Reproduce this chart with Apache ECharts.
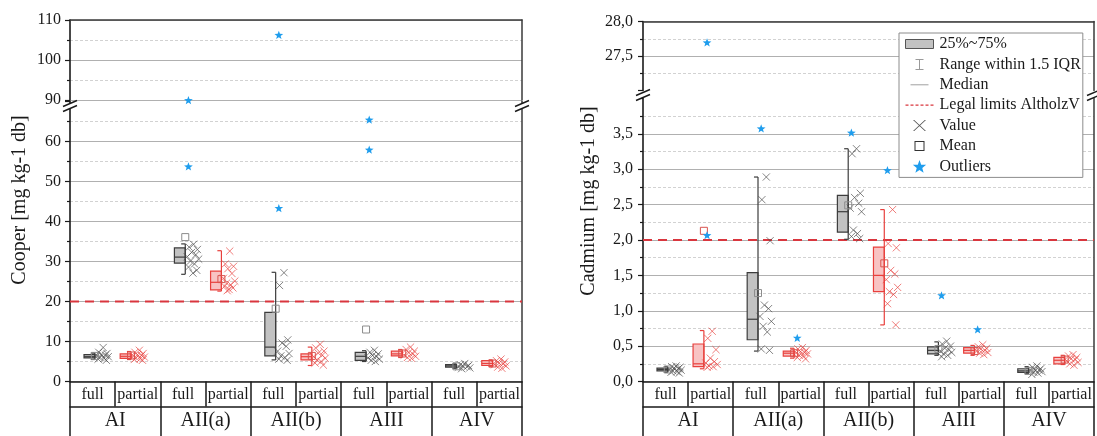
<!DOCTYPE html>
<html>
<head>
<meta charset="utf-8">
<script src="https://cdn.jsdelivr.net/npm/echarts@6.0.0/dist/echarts.min.js"></script>
<style>html,body{margin:0;padding:0;background:#fff}#chart{width:1097px;height:436px}</style>
</head>
<body>
<div id="chart"></div>
<script>
// ---------------- data ----------------
const groups = ['AI', 'AII(a)', 'AII(b)', 'AIII', 'AIV'];
const subCats = ['full', 'partial'];
const cuTitle = 'Cooper [mg kg-1 db]';
const cdTitle = 'Cadmium [mg kg-1 db]';
const cuLimit = 20;
const cdLimit = 2.0;

// [lower whisker, Q1, median, Q3, upper whisker] per group
const cuFullStats = [[5.5, 5.9, 6.2, 6.7, 7.1], [26.8, 29.6, 31.1, 33.4, 34.4], [5.4, 6.4, 8.6, 17.3, 27.3], [5.0, 5.3, 6.3, 7.3, 7.7], [3.3, 3.6, 3.9, 4.2, 4.4]];
const cuPartialStats = [[5.5, 5.8, 6.3, 6.9, 7.5], [22.6, 22.9, 24.8, 27.6, 32.7], [4.0, 5.4, 6.2, 6.9, 8.6], [6.0, 6.4, 6.9, 7.6, 8.0], [3.7, 4.0, 4.5, 5.2, 5.4]];
const cuFullMean = [6.4, 36.1, 18.2, 13.0, 3.8];
const cuPartialMean = [6.5, 25.6, 6.4, 7.0, 4.5];
const cuFullValues = [
  [8.5, 7.3, 7.0, 6.8, 6.6, 6.4, 6.2, 6.0, 5.8, 5.6, 5.3],
  [34.3, 33.6, 33.0, 32.3, 31.7, 31.2, 30.6, 30.1, 29.4, 28.6, 27.8, 27.1],
  [27.2, 24.0, 10.4, 9.6, 8.8, 7.6, 7.0, 6.4, 6.0, 5.6, 5.3],
  [7.8, 7.3, 6.9, 6.5, 6.2, 5.9, 5.6, 5.3, 5.0],
  [4.5, 4.2, 4.0, 3.9, 3.7, 3.6, 3.4, 3.2]
];
const cuPartialValues = [
  [7.8, 7.3, 7.0, 6.7, 6.5, 6.3, 6.1, 5.9, 5.7, 5.5, 5.3],
  [32.6, 29.4, 28.8, 28.2, 27.0, 25.8, 25.1, 24.6, 24.2, 23.8, 23.4, 23.0, 22.7],
  [9.3, 8.4, 7.6, 7.1, 6.6, 6.2, 5.8, 5.4, 5.0, 4.6, 4.1],
  [8.6, 8.0, 7.6, 7.2, 6.9, 6.6, 6.3, 6.0, 5.8],
  [5.6, 5.2, 4.9, 4.6, 4.4, 4.2, 3.9, 3.6, 3.3]
];
const cuFullOutliers = [[], [53.8, 90.0], [43.4, 106.3], [58.0, 65.5], []];
const cuPartialOutliers = [[], [], [], [], []];

const cdFullStats = [[0.13, 0.15, 0.17, 0.19, 0.21], [0.43, 0.59, 0.88, 1.54, 2.89], [2.01, 2.11, 2.40, 2.63, 3.29], [0.37, 0.39, 0.44, 0.49, 0.56], [0.11, 0.13, 0.15, 0.18, 0.21]];
const cdPartialStats = [[0.18, 0.21, 0.25, 0.53, 0.72], [0.33, 0.36, 0.40, 0.43, 0.47], [0.80, 1.27, 1.50, 1.90, 2.43], [0.37, 0.40, 0.44, 0.48, 0.51], [0.24, 0.25, 0.30, 0.34, 0.37]];
const cdFullMean = [0.17, 1.25, 2.49, 0.46, 0.15];
const cdPartialMean = [2.13, 0.40, 1.67, 0.43, 0.31];
const cdFullValues = [
  [0.22, 0.21, 0.20, 0.19, 0.18, 0.17, 0.16, 0.15, 0.14, 0.13, 0.12],
  [2.89, 2.57, 1.99, 1.08, 1.03, 0.92, 0.85, 0.78, 0.70, 0.46, 0.44],
  [3.29, 3.22, 2.66, 2.60, 2.52, 2.45, 2.40, 2.14, 2.09, 2.05, 2.02],
  [0.57, 0.53, 0.50, 0.47, 0.45, 0.43, 0.41, 0.39, 0.37, 0.35],
  [0.22, 0.20, 0.18, 0.17, 0.16, 0.15, 0.14, 0.13, 0.12, 0.10]
];
const cdPartialValues = [
  [0.71, 0.61, 0.45, 0.33, 0.28, 0.26, 0.24, 0.22, 0.21, 0.20],
  [0.48, 0.46, 0.44, 0.42, 0.41, 0.40, 0.39, 0.37, 0.36, 0.34, 0.32],
  [2.43, 1.95, 1.89, 1.57, 1.52, 1.44, 1.33, 1.27, 1.23, 1.10, 0.80],
  [0.52, 0.49, 0.47, 0.46, 0.44, 0.43, 0.41, 0.40, 0.38],
  [0.38, 0.36, 0.34, 0.32, 0.31, 0.29, 0.27, 0.25, 0.23]
];
const cdFullOutliers = [[], [3.58], [3.52], [1.22], []];
const cdPartialOutliers = [[2.07, 27.7], [0.62], [2.99], [0.74], []];

// axis ranges (lower segment / upper segment of the broken axes)
const cuLowerRange = [0, 70], cuUpperRange = [90, 110], cuInterval = 10;
const cdLowerRange = [0, 4], cdUpperRange = [27, 28], cdInterval = 0.5;

// ---------------- layout / style ----------------
const FONT = '"Liberation Serif", "Times New Roman", serif';
const TXT = '#1a1a1a';
const LAYOUT = [
  { box: [0.31, 0.55], value: [0.72, 0.14], outlier: 0.62 },
  { box: [0.11, 0.35], value: [0.52, 0.14], outlier: 0.42 }
];
const STYLE = [
  { fill: '#c2c2c2', stroke: '#3c3c3c', cross: '#4a4a4a', mean: '#8c8c8c' },
  { fill: '#f8c3c3', stroke: '#e8403d', cross: '#e8403d', mean: '#d9534f' }
];
const JITTER = [0.1, -0.6, 0.7, -0.2, 0.45, -0.9, 0.9, -0.4, 0.25, -0.7, 0.6, 0, -0.3];
const STAR_COLOR = '#1f9ded';
const PANELS = [
  { upper: { left: 70, top: 20, width: 452, height: 80 }, lower: { left: 70, top: 101.5, width: 452, height: 280 }, brk: 106 },
  { upper: { left: 643, top: 21.5, width: 451, height: 69 }, lower: { left: 643, top: 98.5, width: 451, height: 283 }, brk: 95 }
];

const catKeys = groups.flatMap(g => subCats.map(s => g + '|' + s));

function xAt(api, cat, frac) {
  const c = api.coord([cat, 0])[0];
  const bw = api.size([1, 0])[0];
  return c + (frac - 0.5) * bw;
}
function renderLimit(params, api) {
  const cs = params.coordSys;
  const y = api.coord([0, api.value(1)])[1];
  return { type: 'line', shape: { x1: cs.x, y1: y, x2: cs.x + cs.width, y2: y },
    style: { stroke: '#d9363e', lineWidth: 2, lineDash: [9, 6] } };
}
function renderBox(params, api) {
  const cat = api.value(0), t = api.value(6);
  const x0 = xAt(api, cat, LAYOUT[t].box[0]), x1 = xAt(api, cat, LAYOUT[t].box[1]);
  const y1 = api.coord([cat, api.value(2)])[1], y3 = api.coord([cat, api.value(4)])[1];
  return { type: 'rect', shape: { x: x0, y: y3, width: x1 - x0, height: Math.max(y1 - y3, 1) },
    style: { fill: STYLE[t].fill, stroke: STYLE[t].stroke, lineWidth: 1.2 } };
}
function renderWhisker(params, api) {
  const cat = api.value(0), t = api.value(6);
  const x1 = xAt(api, cat, LAYOUT[t].box[1]);
  const cap = api.size([1, 0])[0] * 0.09;
  const yl = api.coord([cat, api.value(1)])[1], yh = api.coord([cat, api.value(5)])[1];
  const st = () => ({ stroke: STYLE[t].stroke, lineWidth: 1.2 });
  return { type: 'group', children: [
    { type: 'line', shape: { x1: x1, y1: yl, x2: x1, y2: yh }, style: st() },
    { type: 'line', shape: { x1: x1 - cap, y1: yl, x2: x1, y2: yl }, style: st() },
    { type: 'line', shape: { x1: x1 - cap, y1: yh, x2: x1, y2: yh }, style: st() }
  ] };
}
function renderMedian(params, api) {
  const cat = api.value(0), t = api.value(6);
  const x0 = xAt(api, cat, LAYOUT[t].box[0]), x1 = xAt(api, cat, LAYOUT[t].box[1]);
  const y = api.coord([cat, api.value(3)])[1];
  return { type: 'line', shape: { x1: x0, y1: y, x2: x1, y2: y }, style: { stroke: STYLE[t].stroke, lineWidth: 1.2 } };
}
function renderValue(params, api) {
  const cat = api.value(0), v = api.value(1), t = api.value(2), k = api.value(3);
  const x = xAt(api, cat, LAYOUT[t].value[0] + JITTER[k % JITTER.length] * LAYOUT[t].value[1]);
  const y = api.coord([cat, v])[1];
  const h = 3.6;
  const st = () => ({ stroke: STYLE[t].cross, lineWidth: 0.8, opacity: 0.85 });
  return { type: 'group', children: [
    { type: 'line', shape: { x1: x - h, y1: y - h, x2: x + h, y2: y + h }, style: st() },
    { type: 'line', shape: { x1: x - h, y1: y + h, x2: x + h, y2: y - h }, style: st() }
  ] };
}
function renderMean(params, api) {
  const cat = api.value(0), t = api.value(2);
  const x = xAt(api, cat, LAYOUT[t].box[1]);
  const y = api.coord([cat, api.value(1)])[1];
  return { type: 'rect', shape: { x: x - 3.5, y: y - 3.5, width: 7, height: 7 },
    style: { fill: 'none', stroke: STYLE[t].mean, lineWidth: 1 } };
}
function starPts(cx, cy, R, r) {
  const pts = [];
  for (let k = 0; k < 10; k++) {
    const a = -Math.PI / 2 + k * Math.PI / 5, rad = k % 2 === 0 ? R : r;
    pts.push([cx + rad * Math.cos(a), cy + rad * Math.sin(a)]);
  }
  return pts;
}
function renderOutlier(params, api) {
  const cat = api.value(0), t = api.value(2);
  const x = xAt(api, cat, LAYOUT[t].outlier);
  const y = api.coord([cat, api.value(1)])[1];
  return { type: 'polygon', shape: { points: starPts(x, y + 0.6, 4.6, 1.9) }, style: { fill: STAR_COLOR } };
}

function buildSeries(p, d) {
  const xU = 3 * p, xL = 3 * p + 1, yU = 4 * p, yL = 4 * p + 1;
  const boxes = [], means = [], vals = [], outL = [], outU = [];
  groups.forEach((g, gi) => {
    [0, 1].forEach(t => {
      const cat = gi * 2 + t;
      boxes.push([cat].concat(d.stats[t][gi], [t]));
      means.push([cat, d.means[t][gi], t]);
      d.values[t][gi].forEach((v, k) => vals.push([cat, v, t, k]));
      d.outliers[t][gi].forEach(v => (v >= d.upperMin ? outU : outL).push([cat, v, t]));
    });
  });
  const base = { type: 'custom', xAxisIndex: xL, yAxisIndex: yL, silent: true, animation: false };
  return [
    Object.assign({}, base, { name: 'Legal limits AltholzV', renderItem: renderLimit, data: [[0, d.limit]], z: 3 }),
    Object.assign({}, base, { name: '25%~75%', renderItem: renderBox, data: boxes, z: 4 }),
    Object.assign({}, base, { name: 'Range within 1.5 IQR', renderItem: renderWhisker, data: boxes, z: 5 }),
    Object.assign({}, base, { name: 'Median', renderItem: renderMedian, data: boxes, z: 6 }),
    Object.assign({}, base, { name: 'Value', renderItem: renderValue, data: vals, z: 7 }),
    Object.assign({}, base, { name: 'Mean', renderItem: renderMean, data: means, z: 8 }),
    Object.assign({}, base, { name: 'Outliers', renderItem: renderOutlier, data: outL, z: 9 }),
    Object.assign({}, base, { name: 'Outliers', xAxisIndex: xU, yAxisIndex: yU, renderItem: renderOutlier, data: outU, z: 9 })
  ];
}

const fmtCu = v => String(Math.round(v));
const fmtCd = v => v.toFixed(1).replace('.', ',');

const grids = [], xAxes = [], yAxes = [];
const axisDefs = [
  { lower: cuLowerRange, upper: cuUpperRange, interval: cuInterval, fmt: fmtCu, margin: 9, hideUpperMin: false },
  { lower: cdLowerRange, upper: cdUpperRange, interval: cdInterval, fmt: fmtCd, margin: 10, hideUpperMin: true }
];
PANELS.forEach((P, p) => {
  const ad = axisDefs[p];
  grids.push(Object.assign({ outerBoundsMode: 'none', containLabel: false }, P.upper));
  grids.push(Object.assign({ outerBoundsMode: 'none', containLabel: false }, P.lower));
  const gU = 2 * p, gL = 2 * p + 1;
  const lineBlack = { color: '#1a1a1a', width: 1.5 };
  xAxes.push({ type: 'category', gridIndex: gU, data: catKeys, position: 'top',
    axisLine: { show: true, onZero: false, lineStyle: { color: '#3a3a3a', width: 1.5 } },
    axisTick: { show: false }, axisLabel: { show: false }, splitLine: { show: false } });
  xAxes.push({ type: 'category', gridIndex: gL, data: catKeys, position: 'bottom',
    axisLine: { show: true, onZero: false, lineStyle: lineBlack },
    axisTick: { show: true, interval: 0, length: 25, lineStyle: lineBlack },
    axisLabel: { interval: 0, margin: 5, fontFamily: FONT, fontSize: 16, color: TXT, formatter: v => v.split('|')[1] },
    splitLine: { show: false } });
  xAxes.push({ type: 'category', gridIndex: gL, data: groups, position: 'bottom', offset: 25,
    axisLine: { show: true, onZero: false, lineStyle: lineBlack },
    axisTick: { show: true, interval: 0, length: 30, lineStyle: lineBlack },
    axisLabel: { interval: 0, margin: 4, fontFamily: FONT, fontSize: 20, color: TXT },
    splitLine: { show: false } });
  const common = {
    type: 'value', interval: ad.interval,
    axisLine: { show: true, onZero: false, lineStyle: { color: '#1a1a1a', width: 1.6 } },
    axisTick: { show: true, length: 5, lineStyle: { color: '#1a1a1a', width: 1.2 } },
    minorTick: { show: true, splitNumber: 2, length: 3, lineStyle: { color: '#1a1a1a', width: 1.2 } },
    minorSplitLine: { show: true, lineStyle: { color: '#d2d2d2', type: [3, 2], width: 1 } },
    axisLabel: { fontFamily: FONT, fontSize: 16, color: TXT, margin: ad.margin, formatter: ad.fmt }
  };
  yAxes.push(Object.assign({}, common, { gridIndex: gU, min: ad.upper[0], max: ad.upper[1],
    axisLabel: Object.assign({}, common.axisLabel, { showMinLabel: !ad.hideUpperMin }),
    splitLine: { show: true, showMinLine: !ad.hideUpperMin, lineStyle: { color: '#b0b0b0', width: 1 } } }));
  yAxes.push(Object.assign({}, common, { gridIndex: gL, min: ad.lower[0], max: ad.lower[1],
    axisLabel: Object.assign({}, common.axisLabel, { showMaxLabel: false }),
    splitLine: { show: true, showMaxLine: false, lineStyle: { color: '#b0b0b0', width: 1 } } }));
  [gU, gL].forEach(gi => yAxes.push({ type: 'value', gridIndex: gi, position: 'right', min: 0, max: 1,
    axisLine: { show: true, onZero: false, lineStyle: { color: '#3a3a3a', width: 1.5 } },
    axisTick: { show: false }, axisLabel: { show: false }, splitLine: { show: false } }));
});

const series = [].concat(
  buildSeries(0, { stats: [cuFullStats, cuPartialStats], means: [cuFullMean, cuPartialMean],
    values: [cuFullValues, cuPartialValues], outliers: [cuFullOutliers, cuPartialOutliers], limit: cuLimit, upperMin: cuUpperRange[0] }),
  buildSeries(1, { stats: [cdFullStats, cdPartialStats], means: [cdFullMean, cdPartialMean],
    values: [cdFullValues, cdPartialValues], outliers: [cdFullOutliers, cdPartialOutliers], limit: cdLimit, upperMin: cdUpperRange[0] })
);

// legend icons drawn in a 30x14 box
const BOXPAD = 'M0,0M30,14';
const starIcon = 'path://' + BOXPAD + 'M' + starPts(15, 7.6, 7, 2.9).map(q => q[0].toFixed(2) + ',' + q[1].toFixed(2)).join('L') + 'Z';
let dashIcon = 'path://' + BOXPAD;
for (let k = 0; k < 6; k++) dashIcon += 'M' + (1 + 5 * k) + ',6.4h3v1.2h-3Z';
const legendData = [
  { name: '25%~75%', icon: 'path://' + BOXPAD + 'M1,2.5H29V11.5H1Z', itemStyle: { color: '#c2c2c2', borderColor: '#555', borderWidth: 1 } },
  { name: 'Range within 1.5 IQR', icon: 'path://' + BOXPAD + 'M11,1.5H19V2.5H15.5V11.5H19V12.5H11V11.5H14.5V2.5H11Z', itemStyle: { color: '#9a9a9a', borderWidth: 0 } },
  { name: 'Median', icon: 'path://' + BOXPAD + 'M6,6.5H24V7.5H6Z', itemStyle: { color: '#a0a0a0', borderWidth: 0 } },
  { name: 'Legal limits AltholzV', icon: dashIcon, itemStyle: { color: '#d9363e', borderWidth: 0 } },
  { name: 'Value', icon: 'path://' + BOXPAD + 'M8.5,1.5L9.7,1.5L21.5,12.5L20.3,12.5ZM20.3,1.5L21.5,1.5L9.7,12.5L8.5,12.5Z', itemStyle: { color: '#555', borderWidth: 0 } },
  { name: 'Mean', icon: 'path://' + BOXPAD + 'M10,2H20V12H10ZM11,3V11H19V3Z', itemStyle: { color: '#333', borderWidth: 0 } },
  { name: 'Outliers', icon: starIcon, itemStyle: { color: STAR_COLOR, borderWidth: 0 } }
];

function breakMark(x, c) {
  const pts = k => [[x - 7, c - 2.5 + 5 * k + 3], [x + 7, c - 2.5 + 5 * k - 3]];
  const a = pts(0), b = pts(1);
  return { type: 'group', z: 30, children: [
    { type: 'polygon', shape: { points: [a[0], a[1], b[1], b[0]] }, style: { fill: '#fff' }, z: 30 },
    { type: 'line', shape: { x1: a[0][0], y1: a[0][1], x2: a[1][0], y2: a[1][1] }, style: { stroke: '#1a1a1a', lineWidth: 1.4 }, z: 31 },
    { type: 'line', shape: { x1: b[0][0], y1: b[0][1], x2: b[1][0], y2: b[1][1] }, style: { stroke: '#1a1a1a', lineWidth: 1.4 }, z: 31 }
  ] };
}
const graphics = [];
PANELS.forEach(P => {
  graphics.push(breakMark(P.lower.left, P.brk));
  graphics.push(breakMark(P.lower.left + P.lower.width, P.brk));
});
[[cuTitle, 20, 200], [cdTitle, 589, 201]].forEach(([t, x, y]) => graphics.push({
  type: 'text', x: x, y: y, rotation: Math.PI / 2, z: 30,
  style: { text: t, fontFamily: FONT, fontSize: 20, fill: TXT, align: 'center', verticalAlign: 'middle', textAlign: 'center', textVerticalAlign: 'middle' }
}));

const chart = echarts.init(document.getElementById('chart'), null, { renderer: 'canvas' });
chart.setOption({
  backgroundColor: '#fff',
  animation: false,
  grid: grids,
  xAxis: xAxes,
  yAxis: yAxes,
  legend: {
    show: true, orient: 'vertical', left: 899, top: 33, z: 20,
    padding: [3, 2, 3, 5], itemWidth: 30, itemHeight: 14, itemGap: 4.4,
    selectedMode: false, backgroundColor: '#fff', borderColor: '#8c8c8c', borderWidth: 1,
    textStyle: { fontFamily: FONT, fontSize: 16, color: TXT },
    data: legendData
  },
  graphic: graphics,
  series: series
});
</script>
</body>
</html>
